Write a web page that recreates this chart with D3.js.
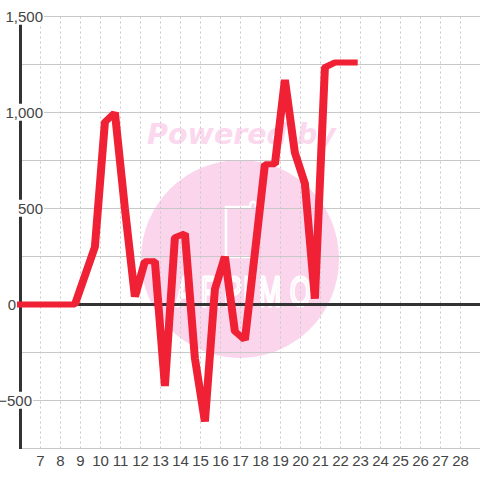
<!DOCTYPE html>
<html>
<head>
<meta charset="utf-8">
<script src="https://cdn.jsdelivr.net/npm/d3@7/dist/d3.min.js"></script>
<style>
  html, body { margin: 0; padding: 0; background: #fff; }
  svg { display: block; }
  text { font-family: "Liberation Sans", Arial, sans-serif; }
</style>
</head>
<body>
<svg id="chart" width="480" height="480"></svg>
<script>
// values
const days = [5.82, 8.72, 9.72, 10.22, 10.72, 11.22, 11.72, 12.22, 12.72, 13.22, 13.72, 14.22, 14.72,
  15.22, 15.72, 16.22, 16.72, 17.22, 17.72, 18.22, 18.72, 19.22, 19.72, 20.22, 20.72, 21.22, 21.72, 22.22, 22.86];
const values = [0, 0, 300, 950, 1000, 500, 40, 225, 225, -425, 350, 370, -280,
  -610, 80, 250, -140, -185, 270, 730, 730, 1170, 790, 630, 30, 1235, 1260, 1260, 1260];
const dayTicks = d3.range(7, 29);
const valueTicks = [-750, -500, -250, 0, 250, 500, 750, 1000, 1250, 1500];
const labelledValues = [-500, 0, 500, 1000, 1500];
const logoLetters = ['A', 'R', 'P', 'I', 'M', 'O'];

const svg = d3.select('#chart');

const xScale = d3.scaleLinear().domain([6, 29]).range([20.5, 480.5]);
const yScale = d3.scaleLinear().domain([-750, 1500]).range([448.5, 16.5]);

// watermark
svg.append('circle')
    .attr('cx', 240).attr('cy', 259).attr('r', 99)
    .attr('fill', '#fbd5ec');

svg.append('text')
    .attr('x', 241.5).attr('y', 144)
    .attr('text-anchor', 'middle')
    .style('font-family', '"DejaVu Sans"')
    .style('font-size', '28.5px')
    .style('font-weight', 'bold')
    .style('font-style', 'italic')
    .attr('fill', '#fcd8ee')
    .text('Powered by');

// logo: open box with a tab at the top right
svg.append('path')
    .attr('d', 'M256,257H226V207H250C250,200 256,200 256,207')
    .attr('fill', 'none')
    .attr('stroke', '#fff')
    .attr('stroke-width', 2.5);

// squeezed block letters, stroke kept even by non-scaling-stroke
const logoSqueeze = 0.62;
const logoLeft = [176, 201, 224, 243, 259, 290];
svg.append('text')
    .attr('transform', `translate(0,306) scale(${logoSqueeze},1)`)
    .attr('x', logoLeft.map(d => d / logoSqueeze).join(' '))
    .style('font-size', '43px')
    .attr('fill', 'none')
    .attr('stroke', '#fff')
    .attr('stroke-width', 2.5)
    .attr('stroke-linejoin', 'round')
    .attr('vector-effect', 'non-scaling-stroke')
    .text(logoLetters.join(''));

// grid
svg.append('g').selectAll('line')
    .data(valueTicks)
  .join('line')
    .attr('x1', 20).attr('x2', 480)
    .attr('y1', d => yScale(d)).attr('y2', d => yScale(d))
    .attr('stroke', '#c8c8c8');

svg.append('g').selectAll('line')
    .data(dayTicks)
  .join('line')
    .attr('x1', d => xScale(d)).attr('x2', d => xScale(d))
    .attr('y1', yScale(1500)).attr('y2', yScale(-750))
    .attr('stroke', '#c8c8c8')
    .attr('stroke-dasharray', '2,3');

// axis lines
svg.append('line')
    .attr('x1', 20.5).attr('x2', 20.5)
    .attr('y1', 24).attr('y2', 449)
    .attr('stroke', '#333').attr('stroke-width', 3);

svg.append('line')
    .attr('x1', 20).attr('x2', 480)
    .attr('y1', yScale(0)).attr('y2', yScale(0))
    .attr('stroke', '#333').attr('stroke-width', 3);

// series: the stroke is wider on steep parts than on flat ones, so it is drawn in a stretched group
const strokeStretch = 4 / 3;
const line = d3.line()
    .x((d, i) => xScale(days[i]) / strokeStretch)
    .y(d => yScale(d));

svg.append('path')
    .datum(values)
    .attr('transform', `scale(${strokeStretch},1)`)
    .attr('d', line)
    .attr('fill', 'none')
    .attr('stroke', '#f02035')
    .attr('stroke-width', 6)
    .attr('stroke-linejoin', 'bevel');

// value labels sit on a white box that cuts the grid and axis
const yLabels = svg.append('g').selectAll('g')
    .data(labelledValues)
  .join('g')
    .attr('transform', d => `translate(0,${yScale(d)})`);

yLabels.append('text')
    .attr('x', d => d === 0 ? 16 : (d === -500 ? 32 : 43))
    .attr('y', 0)
    .attr('dy', '0.35em')
    .attr('text-anchor', 'end')
    .style('font-size', '15px')
    .attr('fill', '#444')
    .text(d => d3.format(',')(d));

yLabels.each(function () {
  const g = d3.select(this);
  const box = g.select('text').node().getBBox();
  g.insert('rect', 'text')
      .attr('x', box.x).attr('y', box.y).attr('width', box.width + 1).attr('height', box.height)
      .attr('fill', '#fff');
});

svg.append('g').selectAll('text')
    .data(dayTicks)
  .join('text')
    .attr('x', d => xScale(d))
    .attr('y', 461)
    .attr('dy', '0.35em')
    .attr('text-anchor', 'middle')
    .style('font-size', '15px')
    .attr('fill', '#444')
    .text(d => d);
</script>
</body>
</html>
